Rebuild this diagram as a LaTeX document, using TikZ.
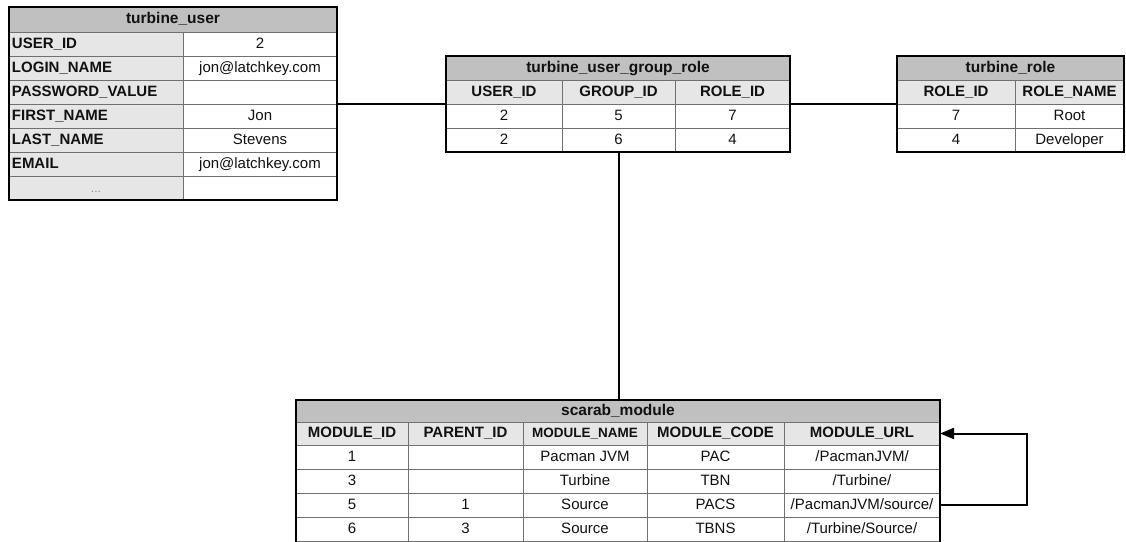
\documentclass[tikz,border=0pt]{standalone}
\usepackage{fontspec}
\setmainfont{Liberation Sans}
\usepackage{xcolor}
\usepackage{tikz}
\usetikzlibrary{arrows.meta,calc}
\definecolor{ink}{HTML}{111111}
\definecolor{rule}{HTML}{707070}
\definecolor{titlebg}{HTML}{C0C0C0}
\definecolor{headbg}{HTML}{E6E6E6}
\definecolor{dots}{HTML}{8A8A8A}
\tikzset{
  cell/.style={draw=rule, line width=0.8pt, anchor=north west, outer sep=0pt, inner sep=0pt,
    minimum height=24pt, text height=11pt, text depth=3pt, text=ink,
    font=\fontsize{15}{17}\selectfont},
  tabtitle/.style={cell, fill=titlebg, font=\fontsize{15.5}{17}\selectfont\bfseries},
  colh/.style={cell, fill=headbg, font=\fontsize{15}{17}\selectfont\bfseries},
  lbl/.style={colh, inner xsep=3pt, text width=168pt, align=left},
  val/.style={cell, fill=white},
  tabframe/.style={draw=black, line width=2.2pt},
  link/.style={draw=black, line width=2pt}
}

\begin{document}
\begin{tikzpicture}[x=1pt, y=-1pt]
  \useasboundingbox (0,0) rectangle (1126,541);
  \clip (0,0) rectangle (1126,541);
  \fill[white] (0,0) rectangle (1126,541);

  % turbine_user
  \node[tabtitle, minimum width=328pt, minimum height=25pt] (tu) at (9,7) {turbine\_user};
  \foreach \lab/\v [count=\i] in {USER\_ID/2, LOGIN\_NAME/jon@latchkey.com, PASSWORD\_VALUE/{},
      FIRST\_NAME/Jon, LAST\_NAME/Stevens, EMAIL/jon@latchkey.com}{
    \node[lbl] (tu-l\i) at (9,{8+24*\i}) {\lab};
    \node[val, minimum width=154pt] (tu-v\i) at (183,{8+24*\i}) {\v};
  }
  \node[lbl, align=center, text=dots, font=\fontsize{12}{14}\selectfont] (tu-l7) at (9,176) {...};
  \node[val, minimum width=154pt] (tu-v7) at (183,176) {};
  \draw[tabframe] (tu.north west) rectangle (tu-v7.south east);

  % turbine_user_group_role
  \node[tabtitle, minimum width=344pt] (ugr) at (446,56) {turbine\_user\_group\_role};
  \foreach \x/\w/\h [count=\c] in {446/116/USER\_ID, 562/113/GROUP\_ID, 675/115/ROLE\_ID}
    \node[colh, minimum width=\w pt] (ugr-h\c) at (\x,80) {\h};
  \foreach \r/\a/\b/\d in {1/2/5/7, 2/2/6/4}{
    \node[val, minimum width=116pt] (ugr-\r-1) at (446,{80+24*\r}) {\a};
    \node[val, minimum width=113pt] (ugr-\r-2) at (562,{80+24*\r}) {\b};
    \node[val, minimum width=115pt] (ugr-\r-3) at (675,{80+24*\r}) {\d};
  }
  \draw[tabframe] (ugr.north west) rectangle (ugr-2-3.south east);

  % turbine_role
  \node[tabtitle, minimum width=227pt] (tr) at (897,56) {turbine\_role};
  \node[colh, minimum width=118pt] (tr-h1) at (897,80) {ROLE\_ID};
  \node[colh, minimum width=109pt] (tr-h2) at (1015,80) {ROLE\_NAME};
  \foreach \r/\a/\b in {1/7/Root, 2/4/Developer}{
    \node[val, minimum width=118pt] (tr-\r-1) at (897,{80+24*\r}) {\a};
    \node[val, minimum width=109pt] (tr-\r-2) at (1015,{80+24*\r}) {\b};
  }
  \draw[tabframe] (tr.north west) rectangle (tr-2-2.south east);

  % scarab_module
  \node[tabtitle, minimum width=644pt, minimum height=22pt] (sm) at (296,400) {scarab\_module};
  \foreach \x/\w/\h [count=\c] in {296/112/MODULE\_ID, 408/115/PARENT\_ID,
      523/124/{\fontsize{13.5}{16}\selectfont MODULE\_NAME}, 647/137/MODULE\_CODE, 784/156/MODULE\_URL}
    \node[colh, minimum width=\w pt, minimum height=23pt] (sm-h\c) at (\x,422) {\h};
  \foreach \r/\a/\b/\n/\k/\u in {1/1//Pacman JVM/PAC/{/PacmanJVM/}, 2/3//Turbine/TBN/{/Turbine/},
      3/5/1/Source/PACS/{/PacmanJVM/source/}, 4/6/3/Source/TBNS/{/Turbine/Source/}}{
    \node[val, minimum width=112pt] (sm-\r-1) at (296,{421+24*\r}) {\a};
    \node[val, minimum width=115pt] (sm-\r-2) at (408,{421+24*\r}) {\b};
    \node[val, minimum width=124pt] (sm-\r-3) at (523,{421+24*\r}) {\n};
    \node[val, minimum width=137pt] (sm-\r-4) at (647,{421+24*\r}) {\k};
    \node[val, minimum width=156pt] (sm-\r-5) at (784,{421+24*\r}) {\u};
  }
  \draw[tabframe] (sm.north west) rectangle ([yshift=-6pt]sm-4-5.south east);

  \draw[link] (tu-v3.south east) -- (ugr-h1.south west);
  \draw[link] (ugr-h3.south east) -- (tr-h1.south west);
  \draw[link] (ugr-2-2.south) -- (ugr-2-2.south |- sm.north);
  % parent link back onto the same table
  \draw[link, -{Triangle[length=14pt, width=11pt]}] (sm-3-5.east) -- ++(87,0) |- (sm-h5.east);
\end{tikzpicture}
\end{document}
